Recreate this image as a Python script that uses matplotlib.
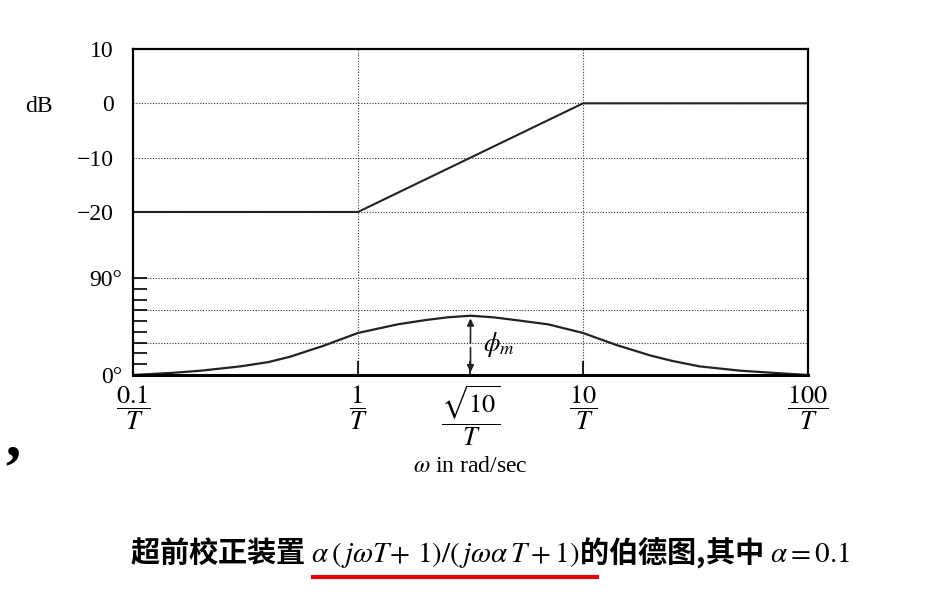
import numpy as np
import matplotlib
matplotlib.use("Agg")
import matplotlib.pyplot as plt
from matplotlib.ticker import FixedLocator, NullLocator

plt.rcParams['mathtext.fontset'] = 'stix'
plt.rcParams['font.family'] = ['Liberation Serif', 'DejaVu Serif']

# data
mag_w = [0.1, 1, 10, 100]
mag_db = [-20, -20, 0, 0]
ph_w = [0.1, 0.15, 0.2, 0.3, 0.4, 0.5, 0.7, 1, 1.5, 2, 2.5, 3.162, 4, 5, 7, 10, 14, 20, 25, 33, 50, 70, 100]
ph_deg = [0, 2, 4, 8, 12, 17, 27, 39, 47, 51, 53.5, 55, 53.5, 51, 47, 39, 28, 18, 13, 8, 4, 2, 0]
xticks = [0.1, 1, 3.162, 10, 100]
xticklabels = [r'$\dfrac{0.1}{T}$', r'$\dfrac{1}{T}$', r'$\dfrac{\sqrt{10}}{T}$', r'$\dfrac{10}{T}$', r'$\dfrac{100}{T}$']
db_ticks = [10, 0, -10, -20]
db_labels = ['10', '0', '\u221210', '\u221220']
ph_ticks = [0, 90]
ph_labels = ['0°', '90°']

W, H = 931, 605
fig = plt.figure(figsize=(W/100, H/100), dpi=100)
L, R = 133/W, 808/W
y_top, y_mid, y_bot = 1-49/H, 1-278/H, 1-375/H
ax1 = fig.add_axes([L, y_mid, R-L, y_top-y_mid])
ax2 = fig.add_axes([L, y_bot, R-L, y_mid-y_bot], sharex=ax1)
for ax in (ax1, ax2):
    for s in ax.spines.values():
        s.set_linewidth(1.6)

ax1.plot(mag_w, mag_db, color='#222', lw=1.5)
ax1.set_xscale('log')
ax1.set_xlim(0.1, 100)
ax1.set_ylim(-20-66/5.43, 10)
ax1.set_yticks(db_ticks)
ax1.set_yticklabels(db_labels, fontsize=17)
for v in [0, -10, -20]:
    ax1.axhline(v, color='#333', ls=(0, (1, 1.5)), lw=0.8, zorder=0)
for v in [1, 10]:
    ax1.axvline(v, color='#333', ls=(0, (1, 1.5)), lw=0.8, zorder=0)
ax1.spines['bottom'].set_visible(False)
ax1.tick_params(axis='x', which='both', bottom=False, labelbottom=False)
ax1.tick_params(axis='y', direction='in', length=0, pad=14)
fig.text(25/W, 1-106/H, 'dB', fontsize=17, va='center')

ax2.plot(ph_w, ph_deg, color='#222', lw=1.6)
ax2.set_ylim(0, 90)
ax2.spines['top'].set_visible(False)
ax2.spines['bottom'].set_linewidth(2.2)
ax2.set_yticks(ph_ticks)
ax2.set_yticklabels(ph_labels, fontsize=17)
ax2.yaxis.set_minor_locator(FixedLocator(range(10, 90, 10)))
ax2.tick_params(axis='y', which='minor', direction='in', length=10, width=1.2)
ax2.tick_params(axis='y', which='major', direction='in', length=10, width=1.2, pad=8)
for v in [30, 60, 90]:
    ax2.axhline(v, color='#333', ls=(0, (1, 1.5)), lw=0.8, zorder=0)
for v in [1, 10]:
    ax2.axvline(v, color='#333', ls=(0, (1, 1.5)), lw=0.8, zorder=0)
ax2.xaxis.set_minor_locator(NullLocator())
ax2.set_xticks(xticks)
ax2.set_xticklabels(xticklabels, fontsize=19)
ax2.tick_params(axis='x', direction='in', length=10, width=1.2, pad=6)
ax2.annotate('', xy=(3.162, 55), xytext=(3.162, 27), arrowprops=dict(arrowstyle='-|>', color='#222', lw=1.2, mutation_scale=10))
ax2.annotate('', xy=(3.162, 0), xytext=(3.162, 28), arrowprops=dict(arrowstyle='-|>', color='#222', lw=1.2, mutation_scale=10))
ax2.text(3.6, 28, r'$\phi_m$', fontsize=19, va='center')

fig.text(470/W, 1-466/H, r'$\omega$ in rad/sec', fontsize=17, ha='center', va='center')
fig.text(5/W, 1-440/H, ',', fontsize=44, fontweight='bold', va='center')

fig.text(130/W, 1-552/H, '超前校正装置 $\\alpha\\,(\\,j\\omega T\\!+\\,1)/(\\,j\\omega\\alpha\\,T+1)$的伯德图,其中 $\\alpha=0.1$',
         fontsize=21, va='center', family=['Noto Sans CJK SC', 'DejaVu Sans'], fontweight='bold')
fig.add_artist(plt.Line2D([313/W, 597/W], [1-577/H, 1-577/H], color='#e8000b', lw=3))

fig.savefig('out.png', dpi=100)
